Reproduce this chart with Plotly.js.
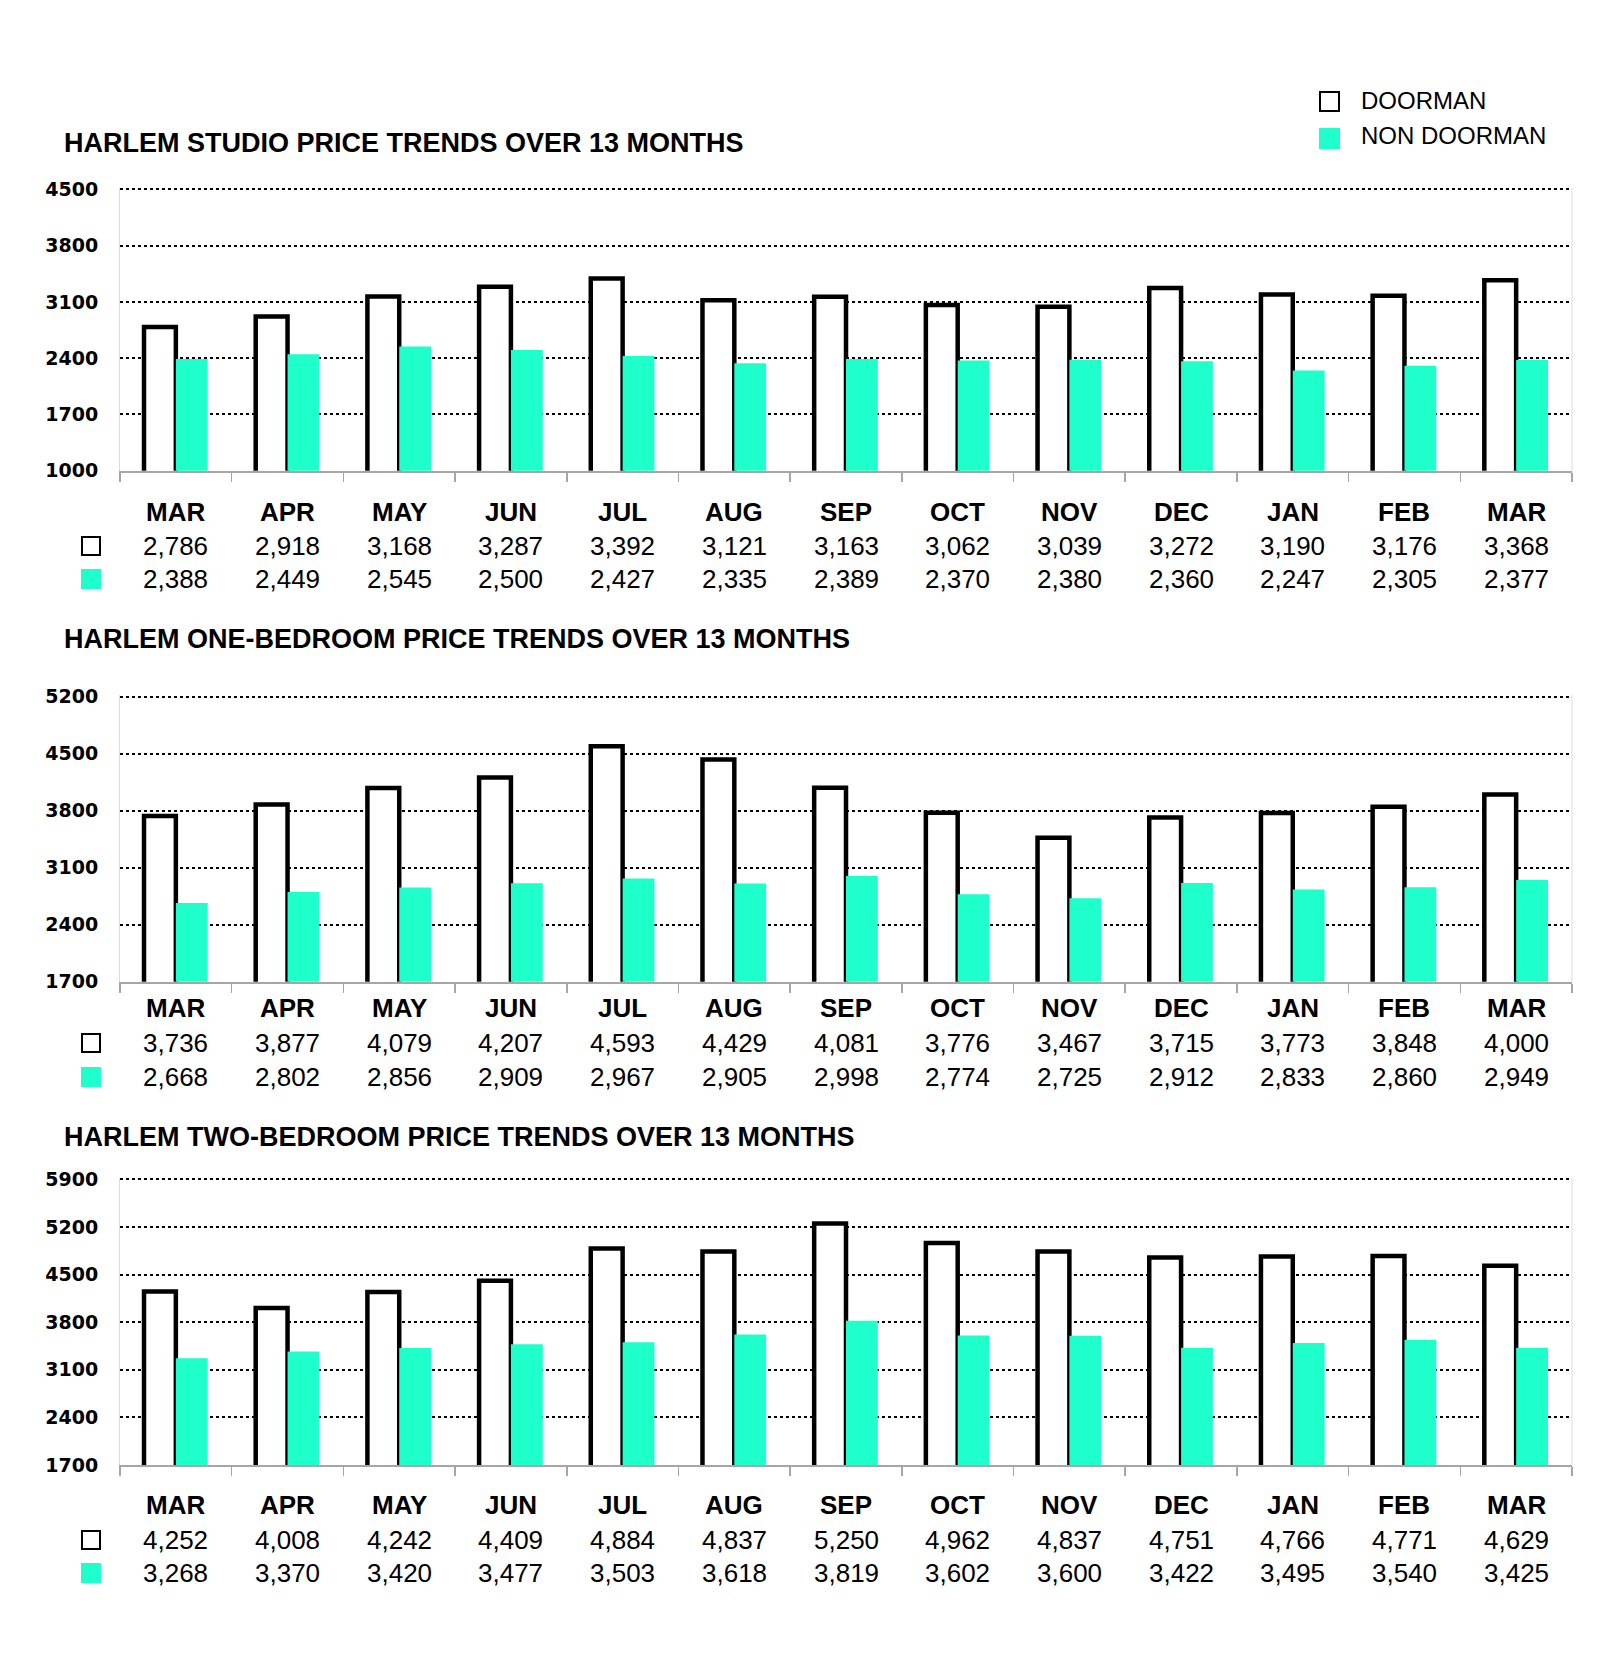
<!DOCTYPE html>
<html>
<head>
<meta charset="utf-8">
<script src="https://cdn.plot.ly/plotly-3.0.1.min.js"></script>
<style>html,body{margin:0;padding:0;background:#fff;}#chart{width:1600px;height:1656px;}</style>
</head>
<body>
<div id="chart"></div>
<script>
// ---- DATA ----
const months = ["MAR","APR","MAY","JUN","JUL","AUG","SEP","OCT","NOV","DEC","JAN","FEB","MAR"];
const seriesNames = ["DOORMAN", "NON DOORMAN"];
const titles = [
  "HARLEM STUDIO PRICE TRENDS OVER 13 MONTHS",
  "HARLEM ONE-BEDROOM PRICE TRENDS OVER 13 MONTHS",
  "HARLEM TWO-BEDROOM PRICE TRENDS OVER 13 MONTHS"
];
const studioDoorman    = [2786, 2918, 3168, 3287, 3392, 3121, 3163, 3062, 3039, 3272, 3190, 3176, 3368];
const studioNonDoorman = [2388, 2449, 2545, 2500, 2427, 2335, 2389, 2370, 2380, 2360, 2247, 2305, 2377];
const oneBedDoorman    = [3736, 3877, 4079, 4207, 4593, 4429, 4081, 3776, 3467, 3715, 3773, 3848, 4000];
const oneBedNonDoorman = [2668, 2802, 2856, 2909, 2967, 2905, 2998, 2774, 2725, 2912, 2833, 2860, 2949];
const twoBedDoorman    = [4252, 4008, 4242, 4409, 4884, 4837, 5250, 4962, 4837, 4751, 4766, 4771, 4629];
const twoBedNonDoorman = [3268, 3370, 3420, 3477, 3503, 3618, 3819, 3602, 3600, 3422, 3495, 3540, 3425];
const yTicks1 = [1000, 1700, 2400, 3100, 3800, 4500];
const yTicks2 = [1700, 2400, 3100, 3800, 4500, 5200];
const yTicks3 = [1700, 2400, 3100, 3800, 4500, 5200, 5900];

// ---- LAYOUT HELPERS ----
const W = 1600, H = 1656;
const px = x => x / W;
const py = y => 1 - y / H;
const TEAL = '#1effcc';
const FONT = 'Liberation Sans, Arial, sans-serif';
const TICKFONT = 'DejaVu Sans, Verdana, sans-serif';

const panels = [
  {d: studioDoorman, n: studioNonDoorman, ticks: yTicks1, top: 189.3, bottom: 470.7, titleY: 143, rows: [512, 546, 579]},
  {d: oneBedDoorman, n: oneBedNonDoorman, ticks: yTicks2, top: 696.7, bottom: 981.7, titleY: 639, rows: [1008, 1043, 1077]},
  {d: twoBedDoorman, n: twoBedNonDoorman, ticks: yTicks3, top: 1179.3, bottom: 1465, titleY: 1137, rows: [1505, 1540, 1573]}
];

const xIdx = months.map((m, i) => i);
const xBounds = months.map((m, i) => i - 0.5).concat([months.length - 0.5]);
const fmt = v => v.toLocaleString('en-US');

const traces = [];
const annotations = [];
const shapes = [];
const layout = {
  width: W, height: H,
  margin: {l: 0, r: 0, t: 0, b: 0},
  paper_bgcolor: '#fff', plot_bgcolor: '#fff',
  barmode: 'group', bargap: 0.43, bargroupgap: 0,
  showlegend: false,
  font: {family: FONT, color: '#000'}
};

panels.forEach((p, k) => {
  const sfx = k === 0 ? '' : String(k + 1);
  const xa = 'x' + sfx, ya = 'y' + sfx;
  const yMin = p.ticks[0], yMax = p.ticks[p.ticks.length - 1];
  const pad = (yMax - yMin) * 0.006;               // small headroom so the top gridline is drawn
  const padPx = (p.bottom - p.top) * 0.006;
  traces.push({
    type: 'bar', x: xIdx, y: p.d, name: seriesNames[0], xaxis: xa, yaxis: ya,
    marker: {color: '#ffffff', line: {color: '#000', width: 4.5}}, hoverinfo: 'skip'
  });
  traces.push({
    type: 'bar', x: xIdx, y: p.n, name: seriesNames[1], xaxis: xa, yaxis: ya,
    marker: {color: TEAL, line: {width: 0}}, hoverinfo: 'skip'
  });
  layout['xaxis' + sfx] = {
    domain: [px(120), px(1572)], anchor: ya, range: [-0.5, months.length - 0.5],
    tickmode: 'array', tickvals: xBounds, showticklabels: false,
    ticks: 'outside', ticklen: 9, tickwidth: 1.5, tickcolor: '#a6a6a6',
    showline: true, linecolor: '#a6a6a6', linewidth: 2, showgrid: false, zeroline: false, fixedrange: true
  };
  layout['yaxis' + sfx] = {
    domain: [py(p.bottom), py(p.top - padPx)], anchor: xa,
    range: [yMin, yMax + pad],
    tickmode: 'array', tickvals: p.ticks, ticktext: p.ticks.map(String),
    tickfont: {family: TICKFONT, size: 19, color: '#000', weight: 'bold'},
    ticks: '', ticklabelstandoff: 17,
    showgrid: true, gridcolor: '#000', gridwidth: 2, griddash: 'dot',
    showline: true, linecolor: '#dcdcdc', linewidth: 1, zeroline: false, fixedrange: true
  };
  // right frame line
  shapes.push({type: 'line', xref: xa + ' domain', yref: ya + ' domain', x0: 1, x1: 1, y0: 0, y1: 1,
    line: {color: '#dcdcdc', width: 1}});
  // title
  annotations.push({xref: 'paper', yref: 'paper', x: px(62), y: py(p.titleY), xanchor: 'left', yanchor: 'middle',
    text: titles[k], showarrow: false, font: {family: FONT, size: 27, color: '#000', weight: 'bold'}});
  // table
  months.forEach((m, i) => {
    annotations.push({xref: xa, yref: 'paper', x: i, y: py(p.rows[0]), xanchor: 'center', yanchor: 'middle',
      text: m, showarrow: false, font: {family: FONT, size: 26, color: '#000', weight: 'bold'}});
    annotations.push({xref: xa, yref: 'paper', x: i, y: py(p.rows[1]), xanchor: 'center', yanchor: 'middle',
      text: fmt(p.d[i]), showarrow: false, font: {family: FONT, size: 26, color: '#000'}});
    annotations.push({xref: xa, yref: 'paper', x: i, y: py(p.rows[2]), xanchor: 'center', yanchor: 'middle',
      text: fmt(p.n[i]), showarrow: false, font: {family: FONT, size: 26, color: '#000'}});
  });
  // table key icons
  shapes.push({type: 'rect', xref: 'paper', yref: 'paper', x0: px(82), x1: px(100), y0: py(p.rows[1] + 9), y1: py(p.rows[1] - 9),
    line: {color: '#000', width: 2}, fillcolor: '#fff'});
  shapes.push({type: 'rect', xref: 'paper', yref: 'paper', x0: px(81), x1: px(101), y0: py(p.rows[2] + 10), y1: py(p.rows[2] - 10),
    line: {width: 0}, fillcolor: TEAL});
});

// legend (top right)
shapes.push({type: 'rect', xref: 'paper', yref: 'paper', x0: px(1320), x1: px(1339), y0: py(111), y1: py(92),
  line: {color: '#000', width: 2}, fillcolor: '#fff'});
shapes.push({type: 'rect', xref: 'paper', yref: 'paper', x0: px(1319), x1: px(1340), y0: py(149), y1: py(128),
  line: {width: 0}, fillcolor: TEAL});
annotations.push({xref: 'paper', yref: 'paper', x: px(1359), y: py(100), xanchor: 'left', yanchor: 'middle',
  text: seriesNames[0], showarrow: false, font: {family: FONT, size: 24, color: '#000'}});
annotations.push({xref: 'paper', yref: 'paper', x: px(1359), y: py(135), xanchor: 'left', yanchor: 'middle',
  text: seriesNames[1], showarrow: false, font: {family: FONT, size: 24, color: '#000'}});

layout.annotations = annotations;
layout.shapes = shapes;

Plotly.newPlot('chart', traces, layout, {displayModeBar: false, staticPlot: true});
</script>
</body>
</html>
